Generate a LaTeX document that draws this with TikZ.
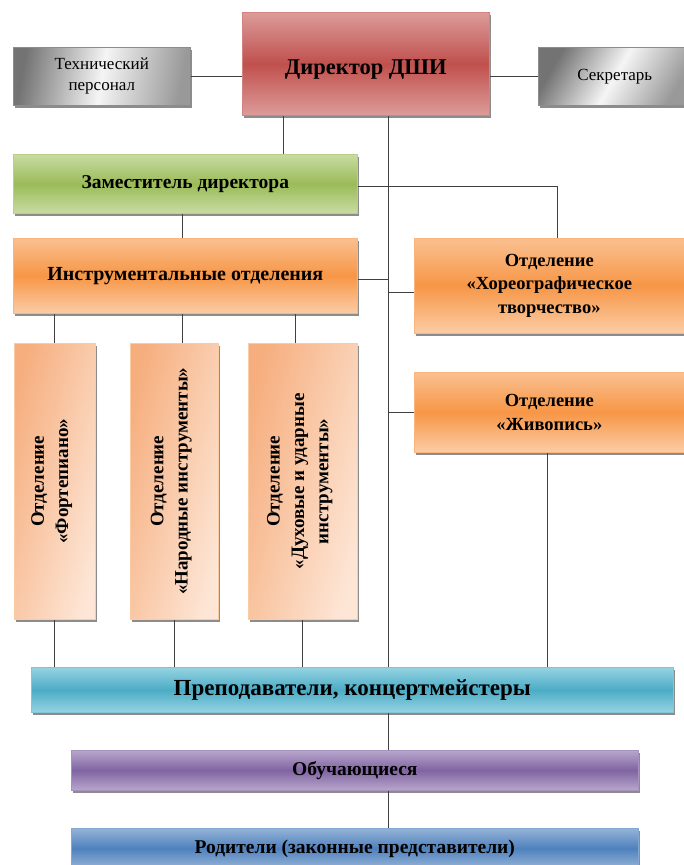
\documentclass[tikz,border=0pt]{standalone}
\usepackage{fontspec}
\setmainfont{Liberation Serif}
\usetikzlibrary{shadows,calc}
\definecolor{redM}{HTML}{C0504D}\definecolor{redL}{HTML}{DC9C9A}
\definecolor{grnM}{HTML}{9BBB59}\definecolor{grnL}{HTML}{C8DCA2}
\definecolor{orM}{HTML}{F79646}\definecolor{orL}{HTML}{FAC090}
\definecolor{vL}{HTML}{F6AE7E}\definecolor{vR}{HTML}{FDE6D6}
\definecolor{tlM}{HTML}{4BACC6}\definecolor{tlL}{HTML}{96D3E2}
\definecolor{prM}{HTML}{8064A2}\definecolor{prL}{HTML}{B8A6CC}
\definecolor{blM}{HTML}{4F81BD}\definecolor{blL}{HTML}{95B3D7}
\definecolor{lineC}{HTML}{404040}
\tikzset{
  base/.style={anchor=north west, inner sep=2pt, align=center,
    drop shadow={shadow xshift=1.2pt, shadow yshift=-2.4pt, fill=black!60, opacity=.75}},
  bf/.style={font=\fontsize{#1pt}{\dimexpr #1pt*128/100\relax}\selectfont\bfseries},
  rg/.style={font=\fontsize{#1pt}{\dimexpr #1pt*125/100\relax}\selectfont},
  redbox/.style={base, top color=redL, bottom color=redL, middle color=redM, draw=redM!70!white, line width=.6pt},
  grnbox/.style={base, top color=grnL, bottom color=grnL, middle color=grnM, draw=grnM!70!white, line width=.6pt},
  orbox/.style={base, top color=orL, bottom color=orL!80!white, middle color=orM, draw=orM!70!white, line width=.6pt},
  vbox/.style={base, left color=vL, right color=vR, shading angle=75, draw=orM!50!white, line width=.6pt},
  tlbox/.style={base, top color=tlL, bottom color=tlL, middle color=tlM, draw=tlM!70!white, line width=.6pt},
  prbox/.style={base, top color=prL, bottom color=prL, middle color=prM, draw=prM!70!white, line width=.6pt},
  blbox/.style={base, top color=blL, bottom color=blL, middle color=blM, draw=blM!70!white, line width=.6pt},
  graybox/.style={base, left color=black!55, right color=black!40, middle color=black!4, shading angle=#1, draw=black!45, line width=.6pt},
  conn/.style={draw=lineC, line width=.9pt},
}
\begin{document}
\begin{tikzpicture}[x=1pt,y=1pt]
\useasboundingbox (0,0) rectangle (683,-865);
% boxes
\node[graybox=80, rg=17, minimum width=177pt, minimum height=58pt] (tech) at (13,-47) {Технический\\персонал};
\node[redbox, bf=22.5, minimum width=247pt, minimum height=103pt, text height=26pt, text depth=4pt] (dir) at (242,-12) {Директор ДШИ};
\node[graybox=60, rg=17, minimum width=153pt, minimum height=58pt] (sec) at (538,-47) {Секретарь};
\node[grnbox, bf=19.5, minimum width=344pt, minimum height=59pt] (zam) at (13,-154) {Заместитель директора};
\node[orbox, bf=20, minimum width=344pt, minimum height=75pt] (instr) at (13,-238) {Инструментальные отделения};
\node[orbox, bf=18.5, minimum width=270pt, minimum height=95pt] (horeo) at (414,-238) {Отделение\\«Хореографическое\\творчество»};
\node[orbox, bf=18.5, minimum width=270pt, minimum height=80pt] (zhiv) at (414,-372) {Отделение\\«Живопись»};
\node[vbox, minimum width=81pt, minimum height=276pt] (fort) at (14,-343) {};
\node[vbox, minimum width=88pt, minimum height=276pt] (narod) at (130,-343) {};
\node[vbox, minimum width=109pt, minimum height=276pt] (duh) at (248,-343) {};
\node[rotate=90, bf=19, align=center] (fortT) at ([xshift=-3pt]fort.center) {Отделение\\«Фортепиано»};
\node[rotate=90, bf=19, align=center] (narodT) at ([xshift=-3pt]narod.center) {Отделение\\«Народные инструменты»};
\node[rotate=90, bf=19, align=center] (duhT) at ([xshift=-3pt]duh.center) {Отделение\\«Духовые и ударные\\инструменты»};
\node[tlbox, bf=23, minimum width=642pt, minimum height=45pt] (prep) at (31,-667) {Преподаватели, концертмейстеры};
\node[prbox, bf=19.5, minimum width=567pt, minimum height=40pt] (obuch) at (71,-750) {Обучающиеся};
\node[blbox, bf=19.5, minimum width=567pt, minimum height=40pt] (rod) at (71,-828) {Родители (законные представители)};
% helper coordinates
\coordinate (dz) at ([xshift=41pt]dir.south west);
\coordinate (trunk) at ([xshift=146pt]dir.south west);
\coordinate (nt) at ([xshift=8pt]narod.north);
\coordinate (dt) at ([xshift=-7.5pt]duh.north);
% connectors
\draw[conn] (tech.east) -- (tech.east -| dir.west);
\draw[conn] (sec.west) -- (sec.west -| dir.east);
\draw[conn] (dz) -- (dz |- zam.north);
\draw[conn] (trunk) -- (trunk |- prep.north);
\draw[conn] ([yshift=-2.5pt]zam.east) -| ([xshift=8pt]horeo.north);
\draw[conn] ([yshift=-4pt]instr.east) -| (trunk);
\draw[conn] ([yshift=-6.5pt]horeo.west) -| (trunk);
\draw[conn] (zhiv.west) -| (trunk);
\draw[conn] (nt |- zam.south) -- (nt |- instr.north);
\draw[conn] (fort.north) -- (fort.north |- instr.south);
\draw[conn] (nt) -- (nt |- instr.south);
\draw[conn] (dt) -- (dt |- instr.south);
\draw[conn] (fort.south) -- (fort.south |- prep.north);
\draw[conn] (narod.south) -- (narod.south |- prep.north);
\draw[conn] (duh.south) -- (duh.south |- prep.north);
\draw[conn] ([xshift=-1.5pt]zhiv.south) -- ([xshift=-1.5pt]zhiv.south |- prep.north);
\draw[conn] (trunk |- prep.south) -- (trunk |- obuch.north);
\draw[conn] (trunk |- obuch.south) -- (trunk |- rod.north);
\end{tikzpicture}
\end{document}
